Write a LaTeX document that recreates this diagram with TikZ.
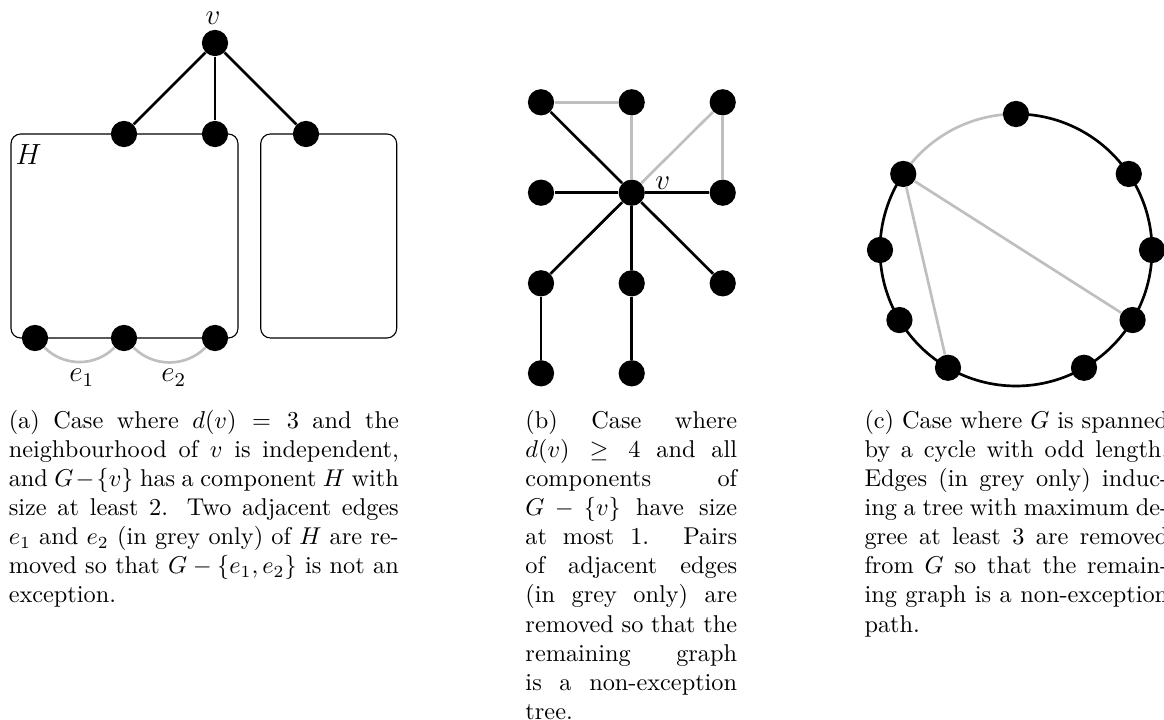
\documentclass[tikz,border=0pt]{standalone}
\usetikzlibrary{backgrounds}
\begin{document}
\begin{tikzpicture}[x=0.41152pt,y=0.41152pt,
  dot/.style={circle,fill=black,inner sep=0pt,minimum size=10.8pt},
  blkedge/.style={line width=1.1pt,black},
  gryedge/.style={line width=1.1pt,black!25},
  comp/.style={line width=0.45pt,rounded corners=4pt},
  lab/.style={font=\large,inner sep=0pt,anchor=base},
  captxt/.style={anchor=base west,inner sep=0pt,align=justify}]
\useasboundingbox (0,0) rectangle (1164,-720);

% ---------- (a) ----------
\node[dot] (v) at (215,-43) {};
\node[dot] (a1) at (124,-134) {};
\node[dot] (a2) at (215,-134) {};
\node[dot] (a3) at (306,-134) {};
\node[dot] (b1) at (35,-338) {};
\node[dot] (b2) at (124,-338) {};
\node[dot] (b3) at (215,-338) {};
\node[lab] (vlab) at (213,-25) {$v$};
\node[lab] (Hlab) at (28.5,-165) {$H$};
\node[lab] (e1lab) at (81.7,-382) {$e_1$};
\node[lab] (e2lab) at (173.8,-382) {$e_2$};
\begin{scope}[on background layer]
  \draw[comp] (11,-134) rectangle (238,-338);
  \draw[comp] (260.7,-134) rectangle (396.7,-338);
  \draw[blkedge] (v) -- (a1);
  \draw[blkedge] (v) -- (a2);
  \draw[blkedge] (v) -- (a3);
  \draw[gryedge] (b1) to[bend right=45] (b2);
  \draw[gryedge] (b2) to[bend right=45] (b3);
\end{scope}
\node[captxt,text width=160.5pt] (capa) at (8.3,-428) {(a) Case where $d(v) = 3$ and the neighbourhood of $v$ is independent, and $G-\{v\}$ has a component $H$ with size at least 2. Two adjacent edges $e_1$ and $e_2$ (in grey only) of $H$ are removed so that $G-\{e_1,e_2\}$ is not an exception.};

% ---------- (b) ----------
\node[dot] (tl) at (541,-102.3) {};
\node[dot] (tm) at (631.7,-102.3) {};
\node[dot] (tr) at (722.7,-102.3) {};
\node[dot] (ml) at (541,-192.7) {};
\node[dot] (w) at (631.7,-192.7) {};
\node[dot] (mr) at (722.7,-192.7) {};
\node[dot] (bl) at (541,-283.3) {};
\node[dot] (bm) at (631.7,-283.3) {};
\node[dot] (br) at (722.7,-283.3) {};
\node[dot] (ll) at (541,-373.3) {};
\node[dot] (lm) at (631.7,-373.3) {};
\node[lab] (wlab) at (662.7,-189.3) {$v$};
\begin{scope}[on background layer]
  \draw[blkedge] (w) -- (tl);
  \draw[blkedge] (w) -- (ml);
  \draw[blkedge] (w) -- (mr);
  \draw[blkedge] (w) -- (bl);
  \draw[blkedge] (w) -- (bm);
  \draw[blkedge] (w) -- (br);
  \draw[blkedge] (bl) -- (ll);
  \draw[blkedge] (bm) -- (lm);
  \draw[gryedge] (tl) -- (tm);
  \draw[gryedge] (tm) -- (w);
  \draw[gryedge] (tr) -- (w);
  \draw[gryedge] (tr) -- (mr);
\end{scope}
\node[captxt,text width=87.1pt] (capb) at (525,-428) {(b) Case where $d(v) \geq 4$ and all components of $G-\{v\}$ have size at most 1. Pairs of adjacent edges (in grey only) are removed so that the remaining graph is a non-exception tree.};

% ---------- (c) ----------
\foreach \n/\a in {c1/90,c2/34,c3/0,c4/-31,c5/-60,c6/-120,c7/-149,c8/180,c9/146}
  \node[dot] (\n) at ({1016+136*cos(\a)},{-250+136*sin(\a)}) {};
\begin{scope}[on background layer]
  \draw[blkedge] (c1.center) arc[start angle=90,end angle=34,radius=136];
  \draw[blkedge] (c2.center) arc[start angle=34,end angle=0,radius=136];
  \draw[blkedge] (c3.center) arc[start angle=0,end angle=-31,radius=136];
  \draw[blkedge] (c4.center) arc[start angle=-31,end angle=-60,radius=136];
  \draw[blkedge] (c5.center) arc[start angle=-60,end angle=-120,radius=136];
  \draw[blkedge] (c6.center) arc[start angle=-120,end angle=-149,radius=136];
  \draw[blkedge] (c7.center) arc[start angle=-149,end angle=-180,radius=136];
  \draw[blkedge] (c8.center) arc[start angle=180,end angle=146,radius=136];
  \draw[gryedge] (c9.center) arc[start angle=146,end angle=90,radius=136];
  \draw[gryedge] (c9) -- (c4);
  \draw[gryedge] (c9) -- (c6);
\end{scope}
\node[captxt,text width=125pt] (capc) at (864,-428) {(c) Case where $G$ is spanned by a cycle with odd length. Edges (in grey only) inducing a tree with maximum degree at least 3 are removed from $G$ so that the remaining graph is a non-exception path.};
\end{tikzpicture}
\end{document}
